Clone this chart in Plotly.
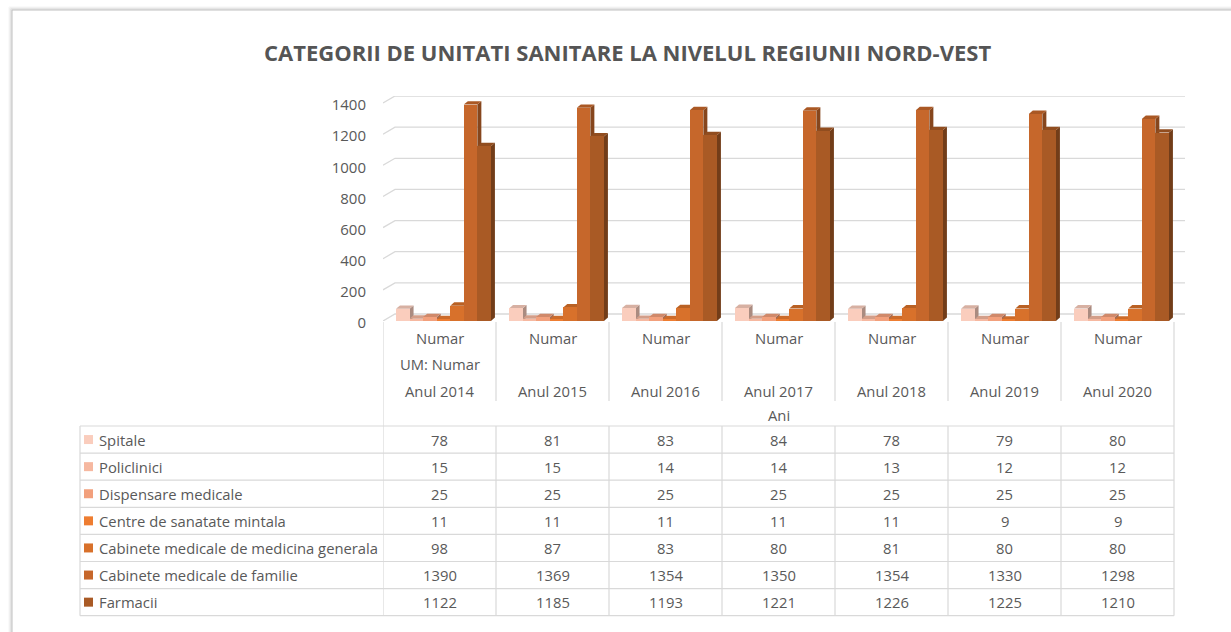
import plotly.graph_objects as go

# ---- data -------------------------------------------------------------
years = ["Anul 2014", "Anul 2015", "Anul 2016", "Anul 2017",
         "Anul 2018", "Anul 2019", "Anul 2020"]
series_names = ["Spitale", "Policlinici", "Dispensare medicale",
                "Centre de sanatate mintala",
                "Cabinete medicale de medicina generala",
                "Cabinete medicale de familie", "Farmacii"]
spitale = [78, 81, 83, 84, 78, 79, 80]
policlinici = [15, 15, 14, 14, 13, 12, 12]
dispensare = [25, 25, 25, 25, 25, 25, 25]
centre_mintala = [11, 11, 11, 11, 11, 9, 9]
cabinete_generala = [98, 87, 83, 80, 81, 80, 80]
cabinete_familie = [1390, 1369, 1354, 1350, 1354, 1330, 1298]
farmacii = [1122, 1185, 1193, 1221, 1226, 1225, 1210]
y_ticks = [0, 200, 400, 600, 800, 1000, 1200, 1400]

series_values = [spitale, policlinici, dispensare, centre_mintala,
                 cabinete_generala, cabinete_familie, farmacii]
colors = ["#FACDBD", "#F6B8A0", "#F2A07C", "#EE7D31",
          "#D8712B", "#C6672B", "#A95A25"]

TEXT = "#595959"
LINE = "#D9D9D9"
FONT = "Open Sans"

# ---- geometry of the plotting box (pixels) ---------------------------
W, H = 1231, 632
PL, PR, PT, PB = 383, 1185, 96, 321
CAT_PX = 113.0                      # width of one year column
x_lo = -0.5
x_hi = x_lo + (PR - PL) / CAT_PX
WALL_DY = 45                        # back wall depth, in axis units
WALL_DX = 12 / CAT_PX
y_top = 1400 + WALL_DY

BAR_W = 0.12
BAR_START = -0.5 + 0.115
DEPTH_DX = 4 / CAT_PX
DEPTH_DY = 22


def shade(hexcol, f):
    r, g, b = (int(hexcol[i:i + 2], 16) for i in (1, 3, 5))
    return "#%02X%02X%02X" % (int(r * f), int(g * f), int(b * f))


def px(x):
    return (x - PL) / (PR - PL)


def py(y):
    return (PB - y) / (PB - PT)


fig = go.Figure()
shapes = []
annotations = []

# back-wall gridlines with the slanted side-wall part
for v in y_ticks:
    shapes.append(dict(
        type="path", xref="x", yref="y", layer="below",
        path=f"M {x_lo},{v} L {x_lo + WALL_DX},{v + WALL_DY} L {x_hi},{v + WALL_DY}",
        line=dict(color=LINE, width=1.3)))

# columns: front faces as bars, top and side faces as shaded paths
for s, (name, vals, col) in enumerate(zip(series_names, series_values, colors)):
    xs = [k + BAR_START + (s + 0.5) * BAR_W for k in range(len(years))]
    fig.add_trace(go.Bar(
        x=xs, y=vals, width=BAR_W, name=name,
        marker=dict(color=col, line=dict(width=0)),
        showlegend=False, hovertemplate="%{y}<extra>" + name + "</extra>"))
    for xc, v in zip(xs, vals):
        x1 = xc + BAR_W / 2
        shapes.append(dict(
            type="path", xref="x", yref="y", layer="between",
            path=(f"M {x1},0 L {x1 + DEPTH_DX},{DEPTH_DY} "
                  f"L {x1 + DEPTH_DX},{v + DEPTH_DY} L {x1},{v} Z"),
            fillcolor=shade(col, 0.68), line=dict(width=0)))
    for xc, v in zip(xs, vals):
        x1 = xc + BAR_W / 2
        x0 = xc - BAR_W / 2
        shapes.append(dict(
            type="path", xref="x", yref="y", layer="between",
            path=(f"M {x0},{v} L {x1},{v} L {x1 + DEPTH_DX},{v + DEPTH_DY} "
                  f"L {x0 + DEPTH_DX},{v + DEPTH_DY} Z"),
            fillcolor=shade(col, 0.86), line=dict(width=0)))

# ---- data table under the plot --------------------------------------
TBL_L = 80
HDR_TOP = 322
ANI_TOP = 401
ROW_TOP = 426
ROW_H = 27.1
n_rows = len(series_names)
TBL_B = ROW_TOP + ROW_H * n_rows
n_cat = len(years)

tline = dict(color=LINE, width=1.2)
# outer verticals of the category block
for k in (0, n_cat):
    shapes.append(dict(type="line", xref="x", yref="paper",
                       x0=k - 0.5, x1=k - 0.5, y0=py(HDR_TOP), y1=py(TBL_B),
                       line=tline))
# inner verticals: header part and body part
for k in range(1, n_cat):
    shapes.append(dict(type="line", xref="x", yref="paper",
                       x0=k - 0.5, x1=k - 0.5, y0=py(HDR_TOP), y1=py(ANI_TOP),
                       line=tline))
    shapes.append(dict(type="line", xref="x", yref="paper",
                       x0=k - 0.5, x1=k - 0.5, y0=py(ROW_TOP), y1=py(TBL_B),
                       line=tline))
shapes.append(dict(type="line", xref="paper", yref="paper",
                   x0=px(TBL_L), x1=px(TBL_L), y0=py(ROW_TOP), y1=py(TBL_B),
                   line=tline))
for i in range(n_rows + 1):
    yy = py(ROW_TOP + i * ROW_H)
    shapes.append(dict(type="line", xref="paper", yref="paper",
                       x0=px(TBL_L), x1=px(PL + CAT_PX * n_cat), y0=yy, y1=yy,
                       line=tline))

font = dict(family=FONT, size=14.8, color=TEXT)

# header texts
for k, yr in enumerate(years):
    annotations.append(dict(xref="x", yref="paper", x=k, y=py(338), text="Numar",
                            showarrow=False, font=font, xanchor="center", yanchor="middle"))
    annotations.append(dict(xref="x", yref="paper", x=k, y=py(391), text=yr,
                            showarrow=False, font=font, xanchor="center", yanchor="middle"))
annotations.append(dict(xref="x", yref="paper", x=0, y=py(364), text="UM: Numar",
                        showarrow=False, font=font, xanchor="center", yanchor="middle"))
annotations.append(dict(xref="x", yref="paper", x=(n_cat - 1) / 2, y=py(415), text="Ani",
                        showarrow=False, font=font, xanchor="center", yanchor="middle"))

# rows: legend key, series name, one value per year
for i, (name, vals, col) in enumerate(zip(series_names, series_values, colors)):
    yc = ROW_TOP + ROW_H * (i + 0.5)
    shapes.append(dict(type="rect", xref="paper", yref="paper",
                       x0=px(84), x1=px(93), y0=py(yc - 4.5), y1=py(yc + 4.5),
                       fillcolor=col, line=dict(width=0)))
    annotations.append(dict(xref="paper", yref="paper", x=px(97), y=py(yc), text=name,
                            showarrow=False, font=font, xanchor="left", yanchor="middle"))
    for k, v in enumerate(vals):
        annotations.append(dict(xref="x", yref="paper", x=k, y=py(yc), text=str(v),
                                showarrow=False, font=font, xanchor="center",
                                yanchor="middle"))

# title
annotations.append(dict(xref="paper", yref="paper", x=px(627), y=py(52),
                        text="<b>CATEGORII DE UNITATI SANITARE LA NIVELUL REGIUNII NORD-VEST</b>",
                        showarrow=False, xanchor="center", yanchor="middle",
                        font=dict(family=FONT, size=22, color="#555555")))

# chart frame with a soft edge shadow
for off, c in ((3, "#F4F4F4"), (2, "#E8E8E8"), (1, "#D6D6D6"), (0, "#BFBFBF")):
    shapes.append(dict(type="line", xref="paper", yref="paper",
                       x0=px(12 - off), x1=px(12 - off), y0=py(10 - off), y1=py(H + 20),
                       line=dict(color=c, width=1), layer="below"))
    shapes.append(dict(type="line", xref="paper", yref="paper",
                       x0=px(12 - off), x1=px(W + 20), y0=py(10 - off), y1=py(10 - off),
                       line=dict(color=c, width=1), layer="below"))

fig.update_layout(
    width=W, height=H, autosize=False,
    margin=dict(l=PL, r=W - PR, t=PT, b=H - PB, pad=0),
    paper_bgcolor="white", plot_bgcolor="rgba(0,0,0,0)",
    barmode="overlay", bargap=0,
    showlegend=False,
    xaxis=dict(range=[x_lo, x_hi], showgrid=False, zeroline=False,
               showticklabels=False, showline=False, ticks="", fixedrange=True),
    yaxis=dict(range=[0, y_top], tickvals=y_ticks, showgrid=False, zeroline=False,
               showline=False, ticks="", ticklabelstandoff=16, ticklabelshift=2,
               tickfont=dict(family=FONT, size=15, color=TEXT), fixedrange=True),
    shapes=shapes,
    annotations=annotations,
    font=dict(family=FONT, color=TEXT),
)

fig.write_html("out.html")
